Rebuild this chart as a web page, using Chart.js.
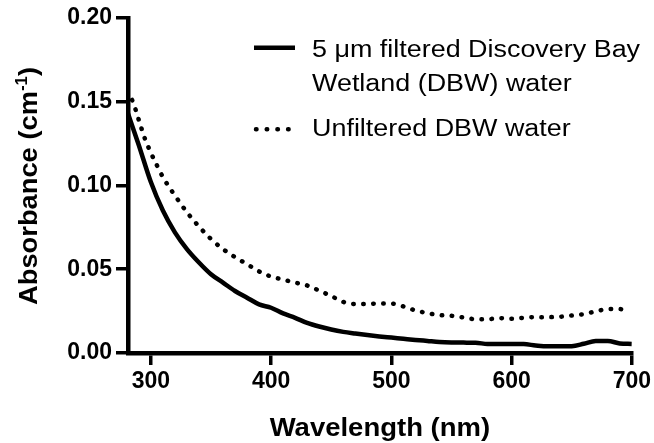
<!DOCTYPE html>
<html>
<head>
<meta charset="utf-8">
<script src="https://cdn.jsdelivr.net/npm/chart.js@4.4.0/dist/chart.umd.min.js"></script>
<style>
  html, body { margin: 0; padding: 0; background: #fff; }
  #wrap { width: 654px; height: 443px; position: relative; }
</style>
</head>
<body>
<div id="wrap"><canvas id="absChart" width="654" height="443"></canvas></div>
<script>
// Absorption spectra of wetland water, filtered vs. unfiltered
const filteredNm = [280, 290, 300, 310, 320, 330, 340, 350, 360, 370, 380, 390, 400,
  410, 420, 430, 440, 450, 460, 470, 480, 490, 500, 510, 520, 530, 540, 550, 560,
  570, 580, 590, 600, 610, 620, 630, 640, 650, 660, 670, 680, 690, 700];
const filteredAbs = [0.145, 0.124, 0.102, 0.085, 0.072, 0.062, 0.054, 0.047, 0.042,
  0.037, 0.033, 0.029, 0.027, 0.0236, 0.021, 0.018, 0.0158, 0.014, 0.0126, 0.0116,
  0.0107, 0.0099, 0.0092, 0.0085, 0.0078, 0.0072, 0.0066, 0.0063, 0.0062, 0.0061,
  0.0054, 0.0053, 0.0053, 0.0053, 0.0045, 0.004, 0.004, 0.0041, 0.0055, 0.0072,
  0.0072, 0.0057, 0.0054];

const unfilteredNm = [280, 285, 290, 295, 300, 305, 310, 320, 330, 340, 350, 360, 370,
  380, 390, 400, 410, 420, 430, 440, 450, 460, 470, 480, 490, 500, 510, 520, 530,
  540, 550, 560, 570, 580, 590, 600, 610, 620, 630, 640, 650, 660, 670, 680, 690, 695];
const unfilteredAbs = [0.156, 0.150, 0.139, 0.128, 0.1195, 0.112, 0.105, 0.094, 0.084,
  0.0755, 0.068, 0.062, 0.0572, 0.053, 0.0487, 0.0456, 0.0438, 0.042, 0.0403, 0.0372,
  0.034, 0.0305, 0.0292, 0.0293, 0.0295, 0.0295, 0.0278, 0.0254, 0.0238, 0.0226,
  0.0222, 0.0212, 0.0202, 0.0202, 0.0208, 0.0204, 0.021, 0.0214, 0.0214, 0.0216,
  0.0224, 0.0232, 0.0248, 0.0262, 0.0262, 0.0255];

const xTicks = [300, 400, 500, 600, 700];
const yTicks = [0, 0.05, 0.10, 0.15, 0.20];

const filteredLabel = ['5 \u03bcm filtered Discovery Bay', 'Wetland (DBW) water'];
const unfilteredLabel = ['Unfiltered DBW water'];

const FONT = '"Liberation Sans", Arial, Helvetica, sans-serif';
const DOTS = [0.5, 9.5];

const toPoints = (xs, ys) => xs.map((x, i) => ({ x, y: ys[i] }));

// text drawn a little wider than the font's own metrics
function wideText(ctx, text, x, y, sx) {
  ctx.save();
  ctx.translate(x, y);
  ctx.scale(sx, 1);
  ctx.fillText(text, 0, 0);
  ctx.restore();
}

// axis titles and the two-entry legend, drawn by hand
const decorations = {
  id: 'decorations',
  afterDraw(chart) {
    const ctx = chart.ctx;
    ctx.save();
    ctx.fillStyle = '#000';
    ctx.strokeStyle = '#000';

    // y title with superscript
    ctx.save();
    ctx.translate(37, 186);
    ctx.rotate(-Math.PI / 2);
    ctx.scale(1.05, 1);
    const big = 'bold 26px ' + FONT, small = 'bold 16px ' + FONT;
    ctx.font = big;
    const w1 = ctx.measureText('Absorbance (cm').width;
    const w3 = ctx.measureText(')').width;
    ctx.font = small;
    const w2 = ctx.measureText('-1').width;
    const x = -(w1 + w2 + w3) / 2;
    ctx.textBaseline = 'alphabetic';
    ctx.font = big;
    ctx.fillText('Absorbance (cm', x, 0);
    ctx.font = small;
    ctx.fillText('-1', x + w1, -10);
    ctx.font = big;
    ctx.fillText(')', x + w1 + w2, 0);
    ctx.restore();

    // x title
    ctx.font = 'bold 25px ' + FONT;
    ctx.textAlign = 'center';
    wideText(ctx, 'Wavelength (nm)', (chart.chartArea.left + chart.chartArea.right) / 2, 436, 1.1);

    // legend
    ctx.textAlign = 'left';
    ctx.font = '23px ' + FONT;
    ctx.lineWidth = 4.5;
    ctx.beginPath();
    ctx.moveTo(254, 47.7);
    ctx.lineTo(295, 47.7);
    ctx.stroke();
    wideText(ctx, filteredLabel[0], 312, 56.7, 1.17);
    wideText(ctx, filteredLabel[1], 312, 91, 1.17);

    ctx.lineWidth = 4.5;
    ctx.lineCap = 'round';
    ctx.setLineDash([0.5, 10.2]);
    ctx.beginPath();
    ctx.moveTo(256, 129.3);
    ctx.lineTo(290, 129.3);
    ctx.stroke();
    ctx.setLineDash([]);
    wideText(ctx, unfilteredLabel[0], 312, 136, 1.17);
    ctx.restore();
  }
};

new Chart(document.getElementById('absChart'), {
  type: 'line',
  data: {
    datasets: [
      {
        label: filteredLabel.join(' '),
        data: toPoints(filteredNm, filteredAbs),
        borderColor: '#000',
        borderWidth: 4.5,
        pointRadius: 0,
        cubicInterpolationMode: 'monotone'
      },
      {
        label: unfilteredLabel[0],
        data: toPoints(unfilteredNm, unfilteredAbs),
        borderColor: '#000',
        borderWidth: 4.5,
        borderDash: DOTS,
        borderCapStyle: 'round',
        pointRadius: 0,
        cubicInterpolationMode: 'monotone'
      }
    ]
  },
  options: {
    responsive: false,
    animation: false,
    layout: { padding: { top: 16, right: 20, left: 0, bottom: 0 } },
    plugins: { legend: { display: false }, tooltip: { enabled: false } },
    scales: {
      x: {
        type: 'linear',
        min: 281,
        max: 700,
        afterBuildTicks: (s) => { s.ticks = xTicks.map(v => ({ value: v })); },
        afterFit: (s) => { s.height = 90; },
        border: { display: true, color: '#000', width: 4.5 },
        grid: { drawOnChartArea: false, drawTicks: true, tickLength: 12, lineWidth: 3.5, color: '#000' },
        ticks: { color: '#000', padding: 3, maxRotation: 0, font: { family: FONT, size: 23, weight: 'bold' } }
      },
      y: {
        min: 0,
        max: 0.2,
        afterBuildTicks: (s) => { s.ticks = yTicks.map(v => ({ value: v })); },
        afterFit: (s) => { s.width = 128; },
        border: { display: true, color: '#000', width: 4.5 },
        grid: { drawOnChartArea: false, drawTicks: true, tickLength: 12, lineWidth: 3.5, color: '#000' },
        ticks: {
          color: '#000', padding: 4,
          font: { family: FONT, size: 23, weight: 'bold' },
          callback: (v) => v.toFixed(2)
        }
      }
    }
  },
  plugins: [decorations]
});
</script>
</body>
</html>
